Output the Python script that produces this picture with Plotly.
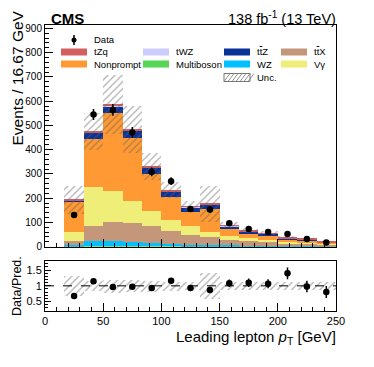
import plotly.graph_objects as go

# bins: 16.67 GeV wide, from 16.67 to 250
bin_centers = [25.0, 41.67, 58.33, 75.0, 91.67, 108.33, 125.0, 141.67, 158.33, 175.0, 191.67, 208.33, 225.0, 241.67]
bin_width = 16.667

# processes, stacked from bottom to top
multiboson = [1, 2, 2, 2, 2, 1.5, 1, 1, 1, 0.5, 0.5, 0.5, 0.5, 0.5]
wz = [7, 20, 20, 16, 13, 11, 7, 7, 4, 3, 2.5, 2, 1.5, 1]
ttx = [14, 64, 79, 78, 70, 53.5, 41, 33, 24, 18.5, 15, 11.5, 9, 5.5]
vgamma = [38, 158, 129, 92, 62, 44, 35, 18, 15, 15, 11, 7, 5, 4]
nonprompt = [125, 201, 321, 260, 152, 95, 60, 96, 30, 19, 18, 9, 11, 5]
ttz = [5, 24, 28, 30, 27, 22, 19, 17, 11, 8, 7, 5, 4, 3]
twz = [0.5, 1, 1.5, 1.5, 1, 1, 0.5, 0.5, 0.5, 0.3, 0.3, 0.2, 0.2, 0.1]
tzq = [2, 5, 6, 5, 4, 5, 3, 4, 3, 2, 2, 2, 1.5, 2]

data = [131, 545, 564, 471, 308, 270, 155, 153, 96, 73, 60, 52, 32, 17]
data_err = [12, 23, 24, 22, 18, 16, 12, 12, 10, 9, 8, 7, 6, 4]

# relative total uncertainty per bin
rel_unc = [0.31, 0.16, 0.21, 0.2, 0.17, 0.14, 0.12, 0.42, 0.13, 0.13, 0.13, 0.13, 0.13, 0.13]

processes = [
    ("Multiboson", multiboson, "#55d655"),
    ("WZ", wz, "#00c0ff"),
    ("ttX", ttx, "#c4977a"),
    ("Vγ", vgamma, "#eeee78"),
    ("Nonprompt", nonprompt, "#ff9933"),
    ("ttZ", ttz, "#0a3399"),
    ("tWZ", twz, "#ccccff"),
    ("tZq", tzq, "#d36060"),
]

fig = go.Figure()

# stack by hand (overlay + base)
base = [0.0] * len(bin_centers)
for name, vals, col in processes:
    fig.add_trace(go.Bar(
        x=bin_centers, y=vals, base=base[:], width=bin_width, name=name,
        marker=dict(color=col, line=dict(width=0)), xaxis="x", yaxis="y",
        showlegend=False,
    ))
    base = [b + v for b, v in zip(base, vals)]
total = base

hatch = dict(color="rgba(0,0,0,0)", line=dict(width=0),
             pattern=dict(shape="/", fgcolor="#606060", size=5, solidity=0.25))

# uncertainty band on main panel
fig.add_trace(go.Bar(
    x=bin_centers, y=[2 * t * u for t, u in zip(total, rel_unc)],
    base=[t * (1 - u) for t, u in zip(total, rel_unc)],
    width=bin_width, marker=hatch, xaxis="x", yaxis="y", showlegend=False,
))

fig.add_trace(go.Scatter(
    x=bin_centers, y=data, mode="markers",
    marker=dict(color="black", size=6.5),
    error_y=dict(type="data", array=data_err, color="black", thickness=1.5, width=0),
    xaxis="x", yaxis="y", showlegend=False,
))

# ratio panel
ratio = [d / t for d, t in zip(data, total)]
ratio_err = [e / t for e, t in zip(data_err, total)]

fig.add_trace(go.Bar(
    x=bin_centers, y=[2 * u for u in rel_unc], base=[1 - u for u in rel_unc],
    width=bin_width, marker=hatch, xaxis="x2", yaxis="y2", showlegend=False,
))
fig.add_trace(go.Scatter(
    x=bin_centers, y=ratio, mode="markers",
    marker=dict(color="black", size=6.5),
    error_y=dict(type="data", array=ratio_err, color="black", thickness=1.5, width=0),
    xaxis="x2", yaxis="y2", showlegend=False,
))

# page body has an 8px margin, so the figure is shrunk by that much
OFF = 8
W, H = 374 - OFF, 367 - OFF
L, R, T, B = 45 - OFF, 38, 25 - OFF, 56


# helpers: reference pixel position -> paper fraction
def px(x):
    return (x - 45) / 291


def py(y):
    return (311 - y) / 286


axis_common = dict(showgrid=False, zeroline=False, showline=True, mirror=True, automargin=False,
                   linecolor="black", linewidth=1, ticks="inside", tickcolor="black")

fig.update_layout(
    width=W, height=H,
    margin=dict(l=L, r=R, t=T, b=B),
    paper_bgcolor="white", plot_bgcolor="white",
    barmode="overlay", bargap=0,
    font=dict(family="Liberation Sans, Arial, sans-serif", color="black"),
    xaxis=dict(axis_common, domain=[0, 1], range=[0, 250], anchor="y", showticklabels=False,
               dtick=50, ticklen=8, minor=dict(ticks="inside", dtick=10, ticklen=4, tickcolor="black")),
    yaxis=dict(axis_common, domain=[0.225, 1], range=[0, 914], dtick=100, ticklen=8,
               tickfont=dict(size=10),
               minor=dict(ticks="inside", dtick=20, ticklen=4, tickcolor="black")),
    xaxis2=dict(axis_common, domain=[0, 1], range=[0, 250], anchor="y2", dtick=50, ticklen=8,
                tickfont=dict(size=11),
                minor=dict(ticks="inside", dtick=10, ticklen=4, tickcolor="black")),
    yaxis2=dict(axis_common, domain=[0, 0.176], range=[0.2, 1.8], anchor="x2",
                tickvals=[0.5, 1, 1.5], ticktext=["0.5", "1", "1.5"], ticklen=6,
                tickfont=dict(size=11),
                minor=dict(ticks="inside", dtick=0.1, ticklen=3, tickcolor="black")),
)

shapes = [dict(type="line", xref="x2", yref="y2", x0=0, x1=250, y0=1, y1=1,
               line=dict(color="black", width=1, dash="dash"))]
annotations = [
    dict(text="<b>CMS</b>", x=px(49), y=py(18), xref="paper", yref="paper",
         xanchor="left", yanchor="middle", showarrow=False, font=dict(size=15)),
    dict(text="138 fb<sup>-1</sup> (13 TeV)", x=px(338), y=py(18), xref="paper", yref="paper",
         xanchor="right", yanchor="middle", showarrow=False, font=dict(size=14.5)),
    dict(text="Events / 16.67 GeV", x=px(17), y=py(9), xref="paper", yref="paper",
         xanchor="center", yanchor="top", textangle=-90, showarrow=False, font=dict(size=15.5)),
    dict(text="Data/Pred.", x=px(17), y=py(286), xref="paper", yref="paper",
         xanchor="center", yanchor="middle", textangle=-90, showarrow=False, font=dict(size=12.5)),
    dict(text="Leading lepton <i>p</i><sub>T</sub> [GeV]", x=px(338), y=py(337), xref="paper",
         yref="paper", xanchor="right", yanchor="middle", showarrow=False, font=dict(size=15)),
]

# legend drawn by hand, ROOT style
leg_font = dict(size=9.5)
tbar = "t<span style='text-decoration:overline'>t</span>"
leg_items = [
    ("tZq", "#d36060", 61, 92, 52),
    ("tWZ", "#ccccff", 143, 174, 52),
    (tbar + "Z", "#0a3399", 224, 255, 52),
    (tbar + "X", "#c4977a", 281, 312, 52),
    ("Nonprompt", "#ff9933", 61, 92, 64),
    ("Multiboson", "#55d655", 143, 174, 64),
    ("WZ", "#00c0ff", 224, 255, 64),
    ("Vγ", "#eeee78", 281, 312, 64),
]
for label, col, bx, tx, yc in leg_items:
    shapes.append(dict(type="rect", xref="paper", yref="paper",
                       x0=px(bx), x1=px(bx + 26), y0=py(yc + 3.5), y1=py(yc - 3.5),
                       fillcolor=col, line=dict(width=0)))
    annotations.append(dict(text=label, x=px(tx), y=py(yc), xref="paper", yref="paper",
                            xanchor="left", yanchor="middle", showarrow=False, font=leg_font))

# data entry
shapes.append(dict(type="line", xref="paper", yref="paper", x0=px(74), x1=px(74),
                   y0=py(35), y1=py(45), line=dict(color="black", width=1.5)))
shapes.append(dict(type="circle", xref="paper", yref="paper", x0=px(71.5), x1=px(76.5),
                   y0=py(42.5), y1=py(37.5), fillcolor="black", line=dict(width=0)))
annotations.append(dict(text="Data", x=px(92), y=py(40), xref="paper", yref="paper",
                        xanchor="left", yanchor="middle", showarrow=False, font=leg_font))

# unc entry
shapes.append(dict(type="rect", xref="paper", yref="paper", x0=px(224), x1=px(250),
                   y0=py(81.5), y1=py(73.5), fillcolor="white", line=dict(color="#777777", width=1)))
path = ""
for k in range(7):
    x0 = 224 + k * 4
    path += f"M{px(x0)},{py(81.5)} L{px(x0 + 6)},{py(73.5)} "
shapes.append(dict(type="path", xref="paper", yref="paper", path=path,
                   line=dict(color="#777777", width=0.8)))
annotations.append(dict(text="Unc.", x=px(255), y=py(77.5), xref="paper", yref="paper",
                        xanchor="left", yanchor="middle", showarrow=False, font=leg_font))

fig.update_layout(shapes=shapes, annotations=annotations)

fig.write_html("out.html")
